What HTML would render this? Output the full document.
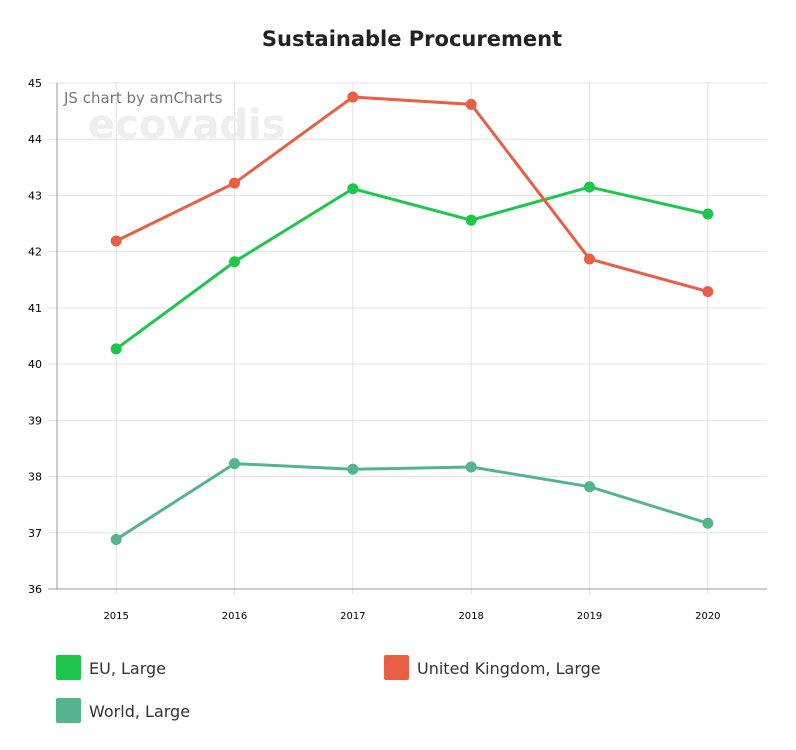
<!DOCTYPE html>
<html><head><meta charset="utf-8"><style>
body{margin:0;background:#fff;font-family:"DejaVu Sans","Liberation Sans",sans-serif;}
svg{display:block}
</style></head><body>
<svg id="chart" width="796" height="750" font-family="DejaVu Sans, Liberation Sans, sans-serif">
<text x="412" y="46" text-anchor="middle" font-size="21" font-weight="bold" fill="#222">Sustainable Procurement</text>
<g id="grid"></g>
<text x="88" y="138" font-size="40" font-weight="bold" fill="#eeeeee">ecovadis</text>
<text x="64" y="103" font-size="15" fill="#777">JS chart by amCharts</text>
<g id="series"></g>
<g id="legend"></g>
</svg>
<script>
const categories=["2015","2016","2017","2018","2019","2020"];
const euValues=[40.27,41.82,43.12,42.56,43.15,42.67];
const ukValues=[42.19,43.22,44.75,44.62,41.87,41.29];
const worldValues=[36.88,38.23,38.13,38.17,37.82,37.17];
const yTicks=[36,37,38,39,40,41,42,43,44,45];
const seriesNames=["EU, Large","United Kingdom, Large","World, Large"];

const L=57,R=767,T=83,B=589,yMin=36,yMax=45;
const bw=(R-L)/categories.length;
const x=i=>L+bw*(i+0.5);
const y=v=>B-(v-yMin)/(yMax-yMin)*(B-T);
const NS="http://www.w3.org/2000/svg";
function mk(tag,attrs,parent){const e=document.createElementNS(NS,tag);for(const k in attrs)e.setAttribute(k,attrs[k]);parent.appendChild(e);return e;}
const grid=document.getElementById('grid');
yTicks.forEach(t=>{
  const l=mk('line',{x1:L-9,x2:R,y1:y(t),y2:y(t),stroke:t===yMin?'#999':'#e3e3e3','stroke-width':1},grid);
  
  
  const tx=mk('text',{x:42,y:y(t)+4,'font-size':11,'text-anchor':'end',fill:'#000'},grid);tx.textContent=t;
  
  
});
categories.forEach((c,i)=>{
  const l=mk('line',{x1:x(i),x2:x(i),y1:T,y2:B+6,stroke:'#e3e3e3','stroke-width':1},grid);
  
  
  const tx=mk('text',{x:x(i),y:B+30,'font-size':10,'text-anchor':'middle',fill:'#000'},grid);tx.textContent=c;
  
  
});
const ax=mk('line',{x1:L,x2:L,y1:T,y2:B,stroke:'#999'},grid);


const ax2=mk('line',{x1:L,x2:R,y1:B,y2:B,stroke:'#999'},grid);



const sg=document.getElementById('series');
const all=[[euValues,'#1ec64b','eu'],[ukValues,'#e85f46','uk'],[worldValues,'#55b48e','world']];
all.forEach(([vals,col,key])=>{
  const p=mk('polyline',{points:vals.map((v,i)=>x(i)+','+y(v)).join(' '),fill:'none',stroke:col,'stroke-width':3},sg);
  
  
  vals.forEach((v,i)=>{
    const c=mk('circle',{cx:x(i),cy:y(v),r:5.5,fill:col},sg);
    
    
  });
});
const lg=document.getElementById('legend');
const pos=[[56,655],[384,655],[56,698]];
all.forEach((s,i)=>{
  const r=mk('rect',{x:pos[i][0],y:pos[i][1],width:25,height:25,rx:2,fill:s[1]},lg);
  
  
  const t=mk('text',{x:pos[i][0]+33,y:pos[i][1]+19,'font-size':16,fill:'#333'},lg);t.textContent=seriesNames[i];
  
  
});
</script>
</body></html>
